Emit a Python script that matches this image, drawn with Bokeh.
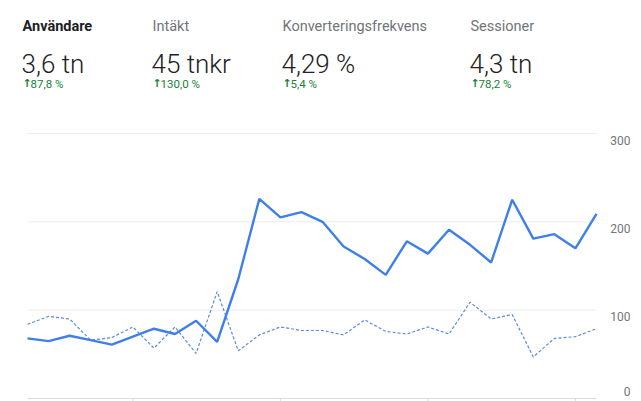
from bokeh.plotting import figure
from bokeh.models import Range1d
from bokeh.core.properties import value
from bokeh.embed import file_html
from bokeh.resources import INLINE

# ---- data ----
days = list(range(28))
users = [68, 65, 71, 66, 61, 70, 79, 73, 88, 64, 135, 226, 205, 211, 200,
         172, 158, 140, 178, 164, 191, 174, 154, 225, 181, 186, 170, 209]
users_prev = [84, 93, 90, 66, 69, 81, 57, 81, 51, 121, 54, 72, 81, 77, 77,
              72, 89, 76, 73, 81, 73, 109, 90, 95, 47, 68, 70, 79]
y_ticks = [0, 100, 200, 300]
y_tick_labels = ["0", "100", "200", "300"]
x_ticks = [5, 12, 19, 26]

metric_names = ["Användare", "Intäkt", "Konverteringsfrekvens", "Sessioner"]
metric_values = ["3,6 tn", "45 tnkr", "4,29 %", "4,3 tn"]
metric_changes = ["87,8 %", "130,0 %", "5,4 %", "78,2 %"]

# ---- layout (pixels) ----
W, H = 641, 401
LEFT, RIGHT, TOP, BOTTOM = 27, 596, 133, 398   # plot area: x 0..27, y 0..300
X0, X1 = 0, 27
Y0, Y1 = 0, 300

def dx(px):
    return X0 + (px - LEFT) * (X1 - X0) / (RIGHT - LEFT)

def dy(py):
    return Y0 + (BOTTOM - py) * (Y1 - Y0) / (BOTTOM - TOP)

p = figure(width=W, height=H, output_backend="svg", toolbar_location=None,
           x_range=Range1d(dx(0), dx(W)), y_range=Range1d(dy(H), dy(0)),
           min_border=0, x_axis_type=None, y_axis_type=None)
p.outline_line_color = None
p.background_fill_color = "white"
p.border_fill_color = "white"
p.xgrid.visible = False
p.ygrid.visible = False

# horizontal grid lines
p.segment(x0=[X0] * 3, x1=[X1] * 3,
          y0=y_ticks[1:], y1=y_ticks[1:], line_color="#ebebeb", line_width=1)
# baseline + week ticks
p.segment(x0=[X0], x1=[X1], y0=[0], y1=[0], line_color="#dadce0", line_width=1)
p.segment(x0=x_ticks, x1=x_ticks, y0=[0] * len(x_ticks),
          y1=[dy(BOTTOM + 4)] * len(x_ticks), line_color="#dadce0", line_width=1)

p.line(days, users_prev, line_color="#5a8ae0", line_width=1.2, line_dash="3 2")
p.line(days, users, line_color="#3f7fe8", line_width=2.4)

# y tick labels on the right
lab_y = [dy(BOTTOM - 3) if v == 0 else dy(BOTTOM - (v - Y0) * (BOTTOM - TOP) / (Y1 - Y0) + 2)
         for v in y_ticks]
lab_base = ["bottom" if v == 0 else "top" for v in y_ticks]
for yy, t, b in zip(lab_y, y_tick_labels, lab_base):
    p.text(x=[dx(630)], y=[yy], text=[t], text_align="right", text_baseline=b,
           text_font=value("Roboto"), text_font_size="12px", text_color="#757575")

col_x = [22, 152, 282, 470]
name_colors = ["#202124", "#70757a", "#70757a", "#70757a"]
name_styles = ["bold", "normal", "normal", "normal"]
for i, x in enumerate(col_x):
    p.text(x=[dx(x)], y=[dy(26)], text=[metric_names[i]], text_baseline="alphabetic",
           text_font=value("Roboto"), text_font_size="14.5px",
           text_color=name_colors[i], text_font_style=name_styles[i])
    p.text(x=[dx(x - 1)], y=[dy(63)], text=[metric_values[i]], text_baseline="alphabetic",
           text_font=value("Roboto Light"), text_font_size="26px", text_color="#202124")
    p.text(x=[dx(x)], y=[dy(83)], text=["↑"], text_baseline="alphabetic",
           text_font=value("DejaVu Sans"), text_font_size="11px", text_color="#188038",
           text_font_style="bold")
    p.text(x=[dx(x + 8)], y=[dy(83)], text=[metric_changes[i]], text_baseline="alphabetic",
           text_font=value("Roboto"), text_font_size="11.5px", text_color="#188038")

open("out.html", "w").write(file_html(p, INLINE))
